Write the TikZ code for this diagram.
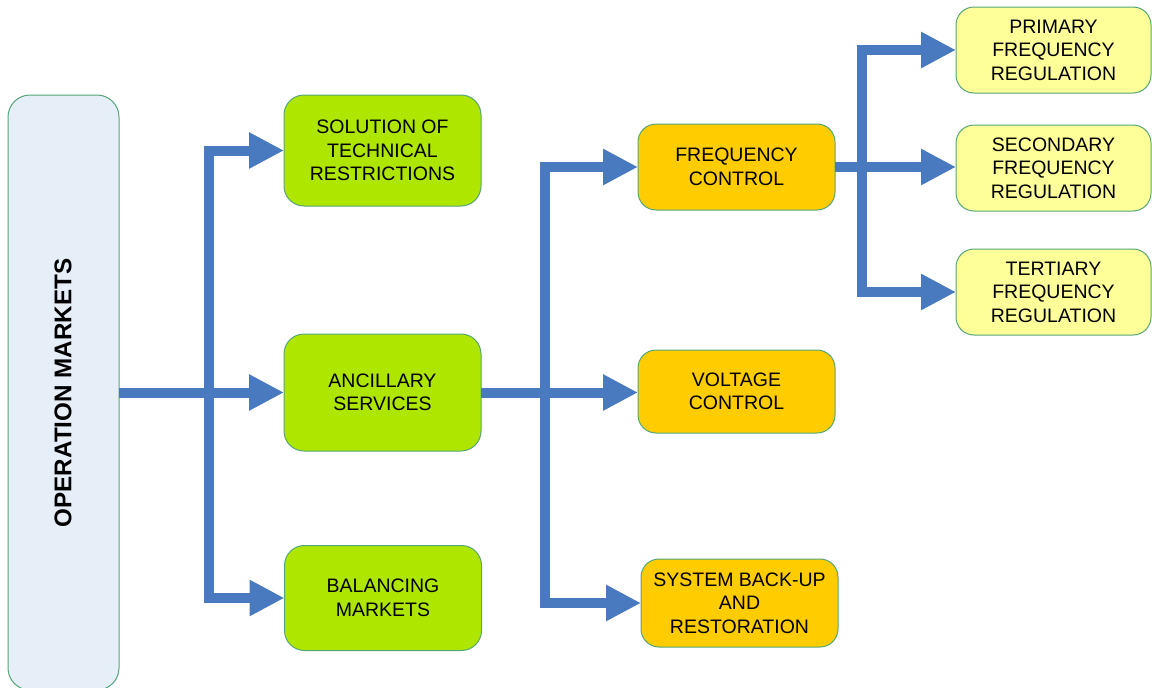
\documentclass[tikz,border=0pt]{standalone}
\usepackage{fontspec}
\setmainfont{Liberation Sans}
\usetikzlibrary{arrows.meta,calc}
\definecolor{opfill}{RGB}{230,238,248}
\definecolor{bordc}{RGB}{84,166,120}
\definecolor{greenf}{RGB}{174,230,0}
\definecolor{orangef}{RGB}{255,204,0}
\definecolor{yellowf}{RGB}{255,255,153}
\definecolor{arrowc}{RGB}{73,122,192}
\begin{document}
\begin{tikzpicture}[x=1pt,y=-1pt,
  box/.style={draw=bordc,line width=1pt,rounded corners=20pt,inner sep=0pt,outer sep=0pt,
    align=center,text=black,font=\fontsize{19.5}{23.5}\selectfont},
  gbox/.style={box,fill=greenf,minimum width=197pt,minimum height=111pt},
  obox/.style={box,fill=orangef,minimum width=197pt,minimum height=86pt,rounded corners=18pt},
  ybox/.style={box,fill=yellowf,minimum width=195pt,minimum height=86pt,rounded corners=18pt},
  conn/.style={draw=arrowc,line width=10pt,-{Triangle[length=35pt,width=34pt]}}
]
\useasboundingbox (0,0) rectangle (1152,688);
% nodes
\node[box,fill=opfill,minimum width=111pt,minimum height=595pt,rounded corners=22pt] (op) at (63.5,392.5) {};
\node[rotate=90,font=\fontsize{24.2}{28}\selectfont\bfseries] (optext) at (63,393) {OPERATION MARKETS};
\node[gbox,minimum height=111pt] (sol) at (382.5,150.5) {SOLUTION OF\\TECHNICAL\\RESTRICTIONS};
\node[gbox,minimum height=117pt] (anc) at (382.5,392.5) {ANCILLARY\\SERVICES};
\node[gbox,minimum height=105pt] (bal) at (383,598) {BALANCING\\MARKETS};
\node[obox] (freq) at (736.5,167) {FREQUENCY\\CONTROL};
\node[obox,minimum height=83pt] (volt) at (736.5,391.5) {VOLTAGE\\CONTROL};
\node[obox,minimum height=88pt] (sys) at (739.5,603) {SYSTEM BACK-UP\\AND\\RESTORATION};
\node[ybox] (prim) at (1053.5,50) {PRIMARY\\FREQUENCY\\REGULATION};
\node[ybox] (sec) at (1053.5,168) {SECONDARY\\FREQUENCY\\REGULATION};
\node[ybox] (ter) at (1053.5,292) {TERTIARY\\FREQUENCY\\REGULATION};
% trunk coordinates
\coordinate (t1) at (209,392.5);
\coordinate (t2) at (545,392.5);
\coordinate (t3) at (862,167);
% connectors
\draw[conn] (op.east |- t1) -- (t1) |- (sol.west);
\draw[conn] (op.east |- anc.west) -- (anc.west);
\draw[conn] (op.east |- t1) -- (t1) |- (bal.west);
\draw[conn] (anc.east) -- (t2) |- (freq.west);
\draw[conn] (anc.east) -- (anc.east -| volt.west);
\draw[conn] (anc.east) -- (t2) |- (sys.west);
\draw[conn] (freq.east) -- (t3) |- (prim.west);
\draw[conn] (freq.east) -- (freq.east -| sec.west);
\draw[conn] (freq.east) -- (t3) |- (ter.west);
\end{tikzpicture}
\end{document}
